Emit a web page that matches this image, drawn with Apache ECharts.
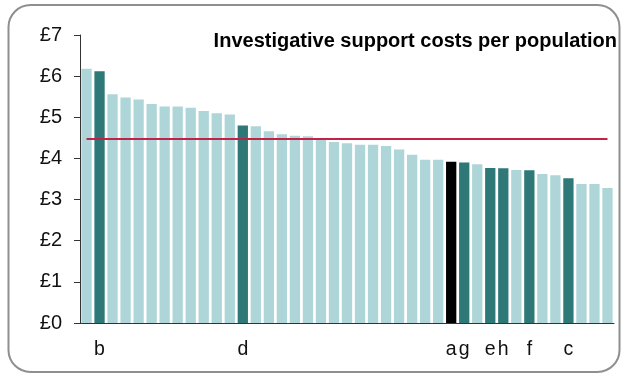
<!DOCTYPE html>
<html>
<head>
<meta charset="utf-8">
<script src="https://cdn.jsdelivr.net/npm/echarts@6/dist/echarts.min.js"></script>
<style>
html,body{margin:0;padding:0;background:#fff;}
#c{width:621px;height:374px;}
</style>
</head>
<body>
<div id="c"></div>
<script>
const chartTitle = 'Investigative support costs per population';
const categories = ['', 'b', '', '', '', '', '', '', '', '', '', '', 'd', '', '', '', '', '', '', '', '',
  '', '', '', '', '', '', '', 'a', 'g', '', 'e', 'h', '', 'f', '', '', 'c', '', '', ''];
const costs = [6.18, 6.12, 5.56, 5.48, 5.43, 5.32, 5.26, 5.26, 5.23, 5.15, 5.10, 5.07,
  4.80, 4.78, 4.66, 4.59, 4.55, 4.54, 4.48, 4.40, 4.37, 4.33, 4.33, 4.30, 4.22, 4.09,
  3.97, 3.97, 3.92, 3.90, 3.86, 3.77, 3.76, 3.72, 3.71, 3.62, 3.59, 3.52, 3.38, 3.38, 3.28];
const averageCost = 4.47;
const focusCategory = 'a';
const yTicks = [0, 1, 2, 3, 4, 5, 6, 7];

const LIGHT = '#aed6d9', DARK = '#2e7878', BLACK = '#000000';
const FONT = '"Liberation Sans", Arial, sans-serif';

const chart = echarts.init(document.getElementById('c'), null, {renderer: 'canvas'});
const barData = costs.map((v, i) => ({
  value: v,
  itemStyle: {color: categories[i] === focusCategory ? BLACK : (categories[i] ? DARK : LIGHT)}
}));

chart.setOption({
  animation: false,
  grid: {left: 80, right: 7, top: 35, bottom: 51, containLabel: false},
  graphic: [
    {type: 'rect', shape: {x: 8.5, y: 5, width: 611, height: 367, r: 22},
     style: {fill: 'none', stroke: '#8f8f8f', lineWidth: 2}, silent: true, z: 0},
    {type: 'text', style: {text: chartTitle, x: 617, y: 41, textAlign: 'right', textVerticalAlign: 'middle',
      font: 'bold 20px ' + FONT, fill: '#000'}, z: 10}
  ],
  xAxis: {
    type: 'category', data: categories,
    axisLine: {lineStyle: {color: '#333', width: 1}},
    axisTick: {show: false},
    axisLabel: {interval: 0, margin: 17, fontSize: 19.5, fontFamily: FONT, color: '#111'},
    splitLine: {show: false}
  },
  yAxis: {
    type: 'value', min: yTicks[0], max: yTicks[yTicks.length - 1], interval: 1,
    axisLine: {show: true, lineStyle: {color: '#333', width: 1}},
    axisTick: {show: true, length: 6, lineStyle: {color: '#333'}},
    axisLabel: {margin: 18, fontSize: 20, fontFamily: FONT, color: '#111', formatter: '£{value}'},
    splitLine: {show: false}
  },
  series: [{
    type: 'bar', data: barData, barCategoryGap: '21%',
    markLine: {
      silent: true, symbol: 'none', label: {show: false},
      lineStyle: {color: '#c42149', width: 2, type: 'solid'},
      data: [[{coord: [0, averageCost]}, {coord: [costs.length - 1, averageCost]}]]
    }
  }]
});
</script>
</body>
</html>
